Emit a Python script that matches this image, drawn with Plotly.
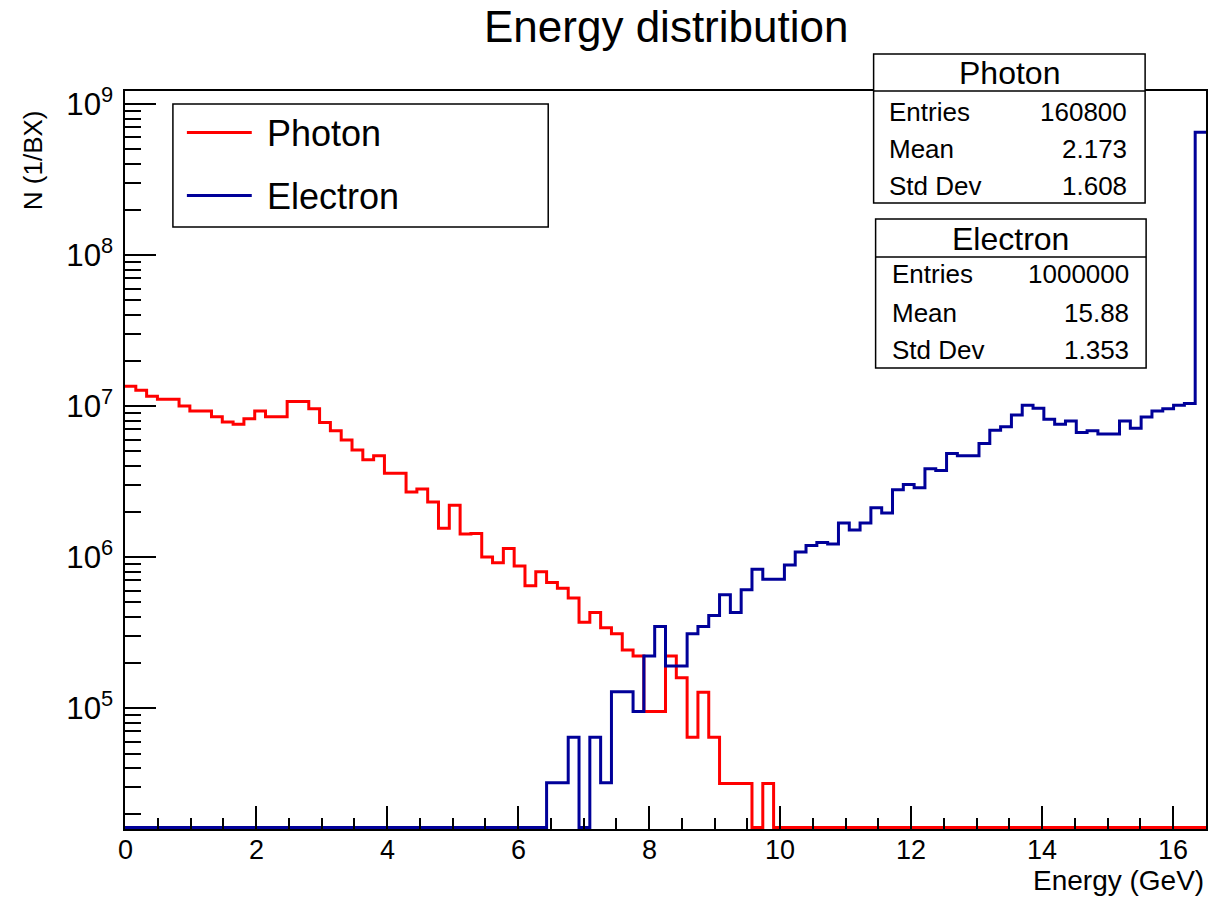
import numpy as np
import plotly.graph_objects as go

# ---- histogram binning ----
x_min, x_max, n_bins = 0.0, 16.5, 100

# ---- energy axis tick labels ----
x_tick_values = [0, 2, 4, 6, 8, 10, 12, 14, 16]
x_tick_labels = ["0", "2", "4", "6", "8", "10", "12", "14", "16"]

# ---- bin contents (N per BX), 100 bins from 0 to 16.5 GeV ----
photon_counts = [
    1.35e7, 1.27e7, 1.16e7, 1.11e7, 1.11e7,
    1.00e7, 9.27e6, 9.27e6, 8.50e6, 7.85e6,
    7.58e6, 8.25e6, 9.27e6, 8.50e6, 8.50e6,
    1.07e7, 1.07e7, 9.60e6, 7.77e6, 6.85e6,
    5.95e6, 5.11e6, 4.40e6, 4.69e6, 3.59e6,
    3.59e6, 2.70e6, 2.82e6, 2.31e6, 1.55e6,
    2.20e6, 1.42e6, 1.43e6, 1.00e6, 9.17e5,
    1.14e6, 8.73e5, 6.45e5, 8.00e5, 6.77e5,
    6.22e5, 5.35e5, 3.70e5, 4.30e5, 3.40e5,
    3.11e5, 2.42e5, 2.21e5, 9.47e4, 9.47e4,
    2.21e5, 1.59e5, 6.41e4, 1.27e5, 6.41e4,
    3.16e4, 3.16e4, 3.16e4, 0.0, 3.16e4,
] + [0.0] * 40

electron_counts = [0.0] * 39 + [
    3.2e4, 3.2e4, 6.4e4, 0.0, 6.4e4,
    3.2e4, 1.28e5, 1.28e5, 9.5e4, 2.21e5,
    3.47e5, 1.90e5, 1.90e5, 3.11e5, 3.47e5,
    4.10e5, 5.62e5, 4.30e5, 6.07e5, 8.30e5,
    7.13e5, 7.13e5, 8.86e5, 1.08e6, 1.19e6,
    1.25e6, 1.22e6, 1.68e6, 1.51e6, 1.68e6,
    2.12e6, 1.96e6, 2.79e6, 3.02e6, 2.88e6,
    3.84e6, 3.74e6, 4.85e6, 4.69e6, 4.69e6,
    5.65e6, 6.92e6, 7.28e6, 8.73e6, 1.01e7,
    9.66e6, 8.17e6, 7.58e6, 7.97e6, 6.67e6,
    6.85e6, 6.52e6, 6.52e6, 7.97e6, 7.13e6,
    8.47e6, 9.27e6, 9.60e6, 1.01e7, 1.04e7,
    6.50e8,
]

# ---- statistics boxes ----
stat_labels = ["Entries", "Mean", "Std Dev"]
photon_stats = ["160800", "2.173", "1.608"]
electron_stats = ["1000000", "15.88", "1.353"]

series_names = ["Photon", "Electron"]
series_colors = ["#ff0000", "#000099"]

# ---- figure geometry (pixels) ----
W, H = 1211, 899
L, R, T, B = 125, 3, 91, 70
plot_w, plot_h = W - L - R, H - T - B
y_lo, y_hi = 4.199, 9.086          # log10 range of the vertical axis
FONT = "Liberation Sans"

edges = np.linspace(x_min, x_max, n_bins + 1)
# empty bins sit on the lower frame edge
floor = 10 ** (y_lo + 1.5 * (y_hi - y_lo) / plot_h)


def step_xy(counts):
    c = np.asarray(counts, dtype=float)
    c = np.where(c > 0, c, floor)
    return edges, np.append(c, c[-1])


def px(x):
    return (x - L) / plot_w


def py(y):
    return (H - B - y) / plot_h


fig = go.Figure()
for name, counts, color in zip(series_names, [photon_counts, electron_counts], series_colors):
    xs, ys = step_xy(counts)
    fig.add_trace(go.Scatter(
        x=xs, y=ys, mode="lines", name=name,
        line=dict(color=color, width=3, shape="hv"),
        showlegend=False, hoverinfo="skip",
    ))

axis_common = dict(
    showline=True, linecolor="black", linewidth=1.5, mirror=True,
    ticks="inside", tickcolor="black", tickwidth=1.5,
    showgrid=False, zeroline=False,
)

fig.update_layout(
    xaxis=dict(
        range=[x_min, x_max], tickmode="array", tickvals=x_tick_values, ticklen=23,
        showticklabels=False,
        minor=dict(dtick=0.5, tick0=0, ticklen=11, ticks="inside", tickcolor="black", tickwidth=1.5, showgrid=False),
        **axis_common,
    ),
    yaxis=dict(
        type="log", range=[y_lo, y_hi], dtick=1, ticklen=31,
        exponentformat="power",
        minor=dict(dtick="D1", ticklen=16, ticks="inside", tickcolor="black", tickwidth=1.5, showgrid=False),
        tickfont=dict(family=FONT, size=25, color="black"),
        ticklabelstandoff=5,
        **axis_common,
    ),
)

shapes = []
annotations = []


def box(x0, y0, x1, y1):
    shapes.append(dict(type="rect", xref="paper", yref="paper",
                       x0=px(x0), x1=px(x1), y0=py(y1), y1=py(y0),
                       line=dict(color="black", width=1.5), fillcolor="white", layer="above"))


def hline(x0, x1, y):
    shapes.append(dict(type="line", xref="paper", yref="paper",
                       x0=px(x0), x1=px(x1), y0=py(y), y1=py(y),
                       line=dict(color="black", width=1.5), layer="above"))


def text(s, x, y, size, xanchor="left", angle=0, yanchor="middle"):
    annotations.append(dict(text=s, x=px(x), y=py(y), xref="paper", yref="paper",
                            xanchor=xanchor, yanchor=yanchor, showarrow=False, textangle=angle,
                            font=dict(family=FONT, size=size, color="black")))


# energy tick labels, placed on the data scale just below the frame
for val, lab in zip(x_tick_values, x_tick_labels):
    annotations.append(dict(text=lab, x=val, xref="x", y=py(850), yref="paper",
                            xanchor="center", yanchor="middle", showarrow=False,
                            font=dict(family=FONT, size=27, color="black")))

# legend
box(173, 104, 549, 227)
for i, (name, color) in enumerate(zip(series_names, series_colors)):
    yy = 132.5 + i * 63
    shapes.append(dict(type="line", xref="paper", yref="paper",
                       x0=px(187), x1=px(252), y0=py(yy), y1=py(yy),
                       line=dict(color=color, width=3), layer="above"))
    text(name, 265, yy + 1, 36)

# statistics boxes
for (bx0, bx1, by0, by1, sep, title, vals, lx, rx, rows) in [
    (875, 1147, 54, 203, 91, series_names[0], photon_stats, 888, 1131, [112, 149, 186]),
    (877, 1148, 219, 368, 257, series_names[1], electron_stats, 891, 1133, [274, 313, 350]),
]:
    box(bx0, by0, bx1, by1)
    hline(bx0, bx1, sep)
    text(title, (bx0 + bx1) / 2, (by0 + sep) / 2 + 1, 32, xanchor="center")
    for lab, val, ry in zip(stat_labels, vals, rows):
        text(lab, lx, ry, 26)
        text(val, rx, ry, 26, xanchor="right")

# titles
text("Energy distribution", 667, 27, 44, xanchor="center")
text("Energy (GeV)", 1208, 898, 28, xanchor="right", yanchor="bottom")
text("N (1/BX)", 33, 108, 26, xanchor="center", angle=-90, yanchor="top")

fig.update_layout(
    width=W, height=H, autosize=False,
    margin=dict(l=L, r=R, t=T, b=B),
    paper_bgcolor="white", plot_bgcolor="white",
    shapes=shapes, annotations=annotations,
    showlegend=False,
)

fig.write_html("out.html")
